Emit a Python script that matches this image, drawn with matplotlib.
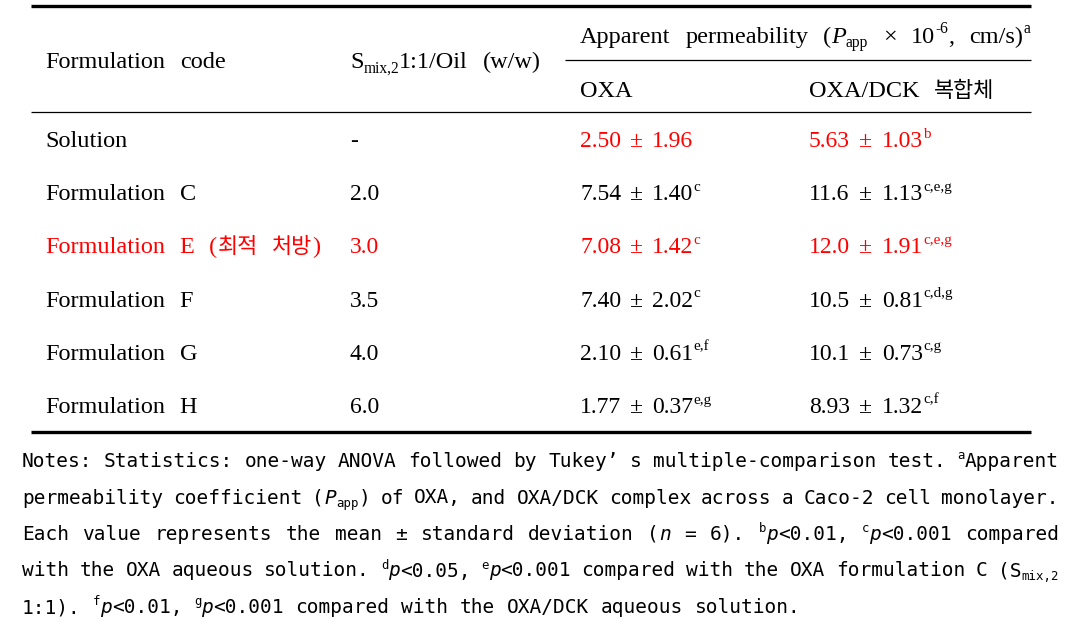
import matplotlib
matplotlib.use('Agg')
import matplotlib.pyplot as plt

# table content
codes = ['Solution', 'Formulation C', 'Formulation E (최적 처방)',
         'Formulation F', 'Formulation G', 'Formulation H']
ratios = ['-', '2.0', '3.0', '3.5', '4.0', '6.0']
oxa_mean = ['2.50', '7.54', '7.08', '7.40', '2.10', '1.77']
oxa_sd = ['1.96', '1.40', '1.42', '2.02', '0.61', '0.37']
oxa_sig = ['', 'c', 'c', 'c', 'e,f', 'e,g']
dck_mean = ['5.63', '11.6', '12.0', '10.5', '10.1', '8.93']
dck_sd = ['1.03', '1.13', '1.91', '0.81', '0.73', '1.32']
dck_sig = ['b', 'c,e,g', 'c,e,g', 'c,d,g', 'c,g', 'c,f']
# which cells are red: (code/ratio, values)
red_label = [False, False, True, False, False, False]
red_vals = [True, False, True, False, False, False]

notes = [
    [('Notes: Statistics: one-way ANOVA followed by Tukey’ s multiple-comparison test. ', 'n'),
     ('a', 'sup'), ('Apparent', 'n')],
    [('permeability coefficient (', 'n'), ('P', 'i'), ('app', 'sub'),
     (') of OXA, and OXA/DCK complex across a Caco-2 cell monolayer.', 'n')],
    [('Each value represents the mean ± standard deviation (', 'n'), ('n', 'i'),
     (' = 6). ', 'n'), ('b', 'sup'), ('p', 'i'), ('<0.01, ', 'n'), ('c', 'sup'),
     ('p', 'i'), ('<0.001 compared', 'n')],
    [('with the OXA aqueous solution. ', 'n'), ('d', 'sup'), ('p', 'i'), ('<0.05, ', 'n'),
     ('e', 'sup'), ('p', 'i'), ('<0.001 compared with the OXA formulation C (S', 'n'),
     ('mix,2', 'sub')],
    [('1:1). ', 'n'), ('f', 'sup'), ('p', 'i'), ('<0.01, ', 'n'), ('g', 'sup'), ('p', 'i'),
     ('<0.001 compared with the OXA/DCK aqueous solution.', 'n')],
]

SERIF = ['Liberation Serif', 'DejaVu Serif']
MONO = ['DejaVu Sans Mono']
KR = ['Noto Sans CJK KR']
RED = '#ff0000'

fig = plt.figure(figsize=(10.83, 6.35), dpi=100)
ax = fig.add_axes([0, 0, 1, 1])
ax.set_xlim(0, 1083)
ax.set_ylim(635, 0)
ax.axis('off')
renderer = fig.canvas.get_renderer()


def put(x, y, s, size, family, color='black', style='normal', weight='normal'):
    return ax.text(x, y, s, fontsize=size, family=family, color=color,
                   style=style, weight=weight, va='baseline', ha='left')


def wid(t):
    return t.get_window_extent(renderer).width


def space_w(size, family):
    a = put(0, 0, 'a a', size, family)
    b = put(0, 0, 'aa', size, family)
    w = wid(a) - wid(b)
    a.remove()
    b.remove()
    return w


def is_kr(ch):
    return '\uac00' <= ch <= '\ud7a3'


def split_kr(word, kind):
    # cut a word into hangul / non-hangul pieces
    out = []
    cur = ''
    for ch in word:
        if cur and (is_kr(cur[-1]) != is_kr(ch)):
            out.append((cur, 'k' if is_kr(cur[-1]) else kind))
            cur = ''
        cur += ch
    if cur:
        out.append((cur, 'k' if is_kr(cur[-1]) else kind))
    return out


def runs(x, y, parts, size, family, color='black', right=None, spf=1.0):
    px = size * 100 / 72
    items = []
    for text, kind in parts:
        pieces = text.split(' ')
        for k, w in enumerate(pieces):
            if k > 0:
                items.append(None)
            if w:
                items.append(split_kr(w, kind))
    sp = space_w(size, family) * spf
    objs = []
    for it in items:
        if it is None:
            objs.append(None)
            continue
        group = []
        for w, kind in it:
            fs = size * 0.64 if kind in ('sup', 'sub') else size
            style = 'italic' if kind == 'i' else 'normal'
            dy = {'sup': -0.40 * px, 'sub': 0.18 * px}.get(kind, 0)
            if kind == 'k':
                t = put(0, y, w, size * 0.9, KR, color, weight='light')
            else:
                t = put(0, y + dy, w, fs, family, color, style)
            group.append(t)
        objs.append(group)
    total = sum(sum(wid(t) for t in o) if o is not None else sp for o in objs)
    nsp = sum(1 for o in objs if o is None)
    if right is not None and nsp:
        sp += (right - x - total) / nsp
    cx = x
    for o in objs:
        if o is None:
            cx += sp
        else:
            for t in o:
                t.set_x(cx)
                cx += wid(t)
    return cx


FS = 17      # numbers
FL = 17.5    # words
SPF = 2.4
# rules
ax.plot([31, 1031], [6, 6], color='black', lw=2.4, solid_capstyle='butt')
ax.plot([565, 1031], [60, 60], color='black', lw=0.9, solid_capstyle='butt')
ax.plot([31, 1031], [112, 112], color='black', lw=0.9, solid_capstyle='butt')
ax.plot([31, 1031], [432, 432], color='black', lw=2.4, solid_capstyle='butt')

# header
runs(45, 68, [('Formulation code', 'n')], FL, SERIF, spf=SPF)
runs(350, 68, [('S', 'n'), ('mix,2', 'sub'), ('1:1/Oil (w/w)', 'n')], FL, SERIF, spf=SPF)
runs(580, 43, [('Apparent permeability (', 'n'), ('P', 'i'), ('app', 'sub'),
               (' × 10', 'n'), ('-6', 'sup'), (', cm/s)', 'n'), ('a', 'sup')],
     FL, SERIF, spf=SPF)
runs(580, 97, [('OXA', 'n')], FL, SERIF, spf=SPF)
runs(809, 97, [('OXA/DCK 복합체', 'n')], FL, SERIF, spf=SPF)

# body rows
for i in range(len(codes)):
    y = 147 + i * 53.2
    lc = RED if red_label[i] else 'black'
    vc = RED if red_vals[i] else 'black'
    runs(45, y, [(codes[i], 'n')], FL, SERIF, lc, spf=SPF)
    runs(350, y, [(ratios[i], 'n')], FS, SERIF, lc)
    runs(580, y, [(oxa_mean[i], 'n')], FS, SERIF, vc)
    runs(630, y, [('±', 'n')], FS, SERIF, vc)
    runs(652, y, [(oxa_sd[i], 'n'), (oxa_sig[i], 'sup')], FS, SERIF, vc)
    runs(809, y, [(dck_mean[i], 'n')], FS, SERIF, vc)
    runs(859, y, [('±', 'n')], FS, SERIF, vc)
    runs(882, y, [(dck_sd[i], 'n'), (dck_sig[i], 'sup')], FS, SERIF, vc)

# notes
for k, line in enumerate(notes):
    right = 1059 if k < len(notes) - 1 else None
    runs(22, 467 + k * 36.5, line, 14, MONO, 'black', right)

fig.savefig('out.png', dpi=100)
